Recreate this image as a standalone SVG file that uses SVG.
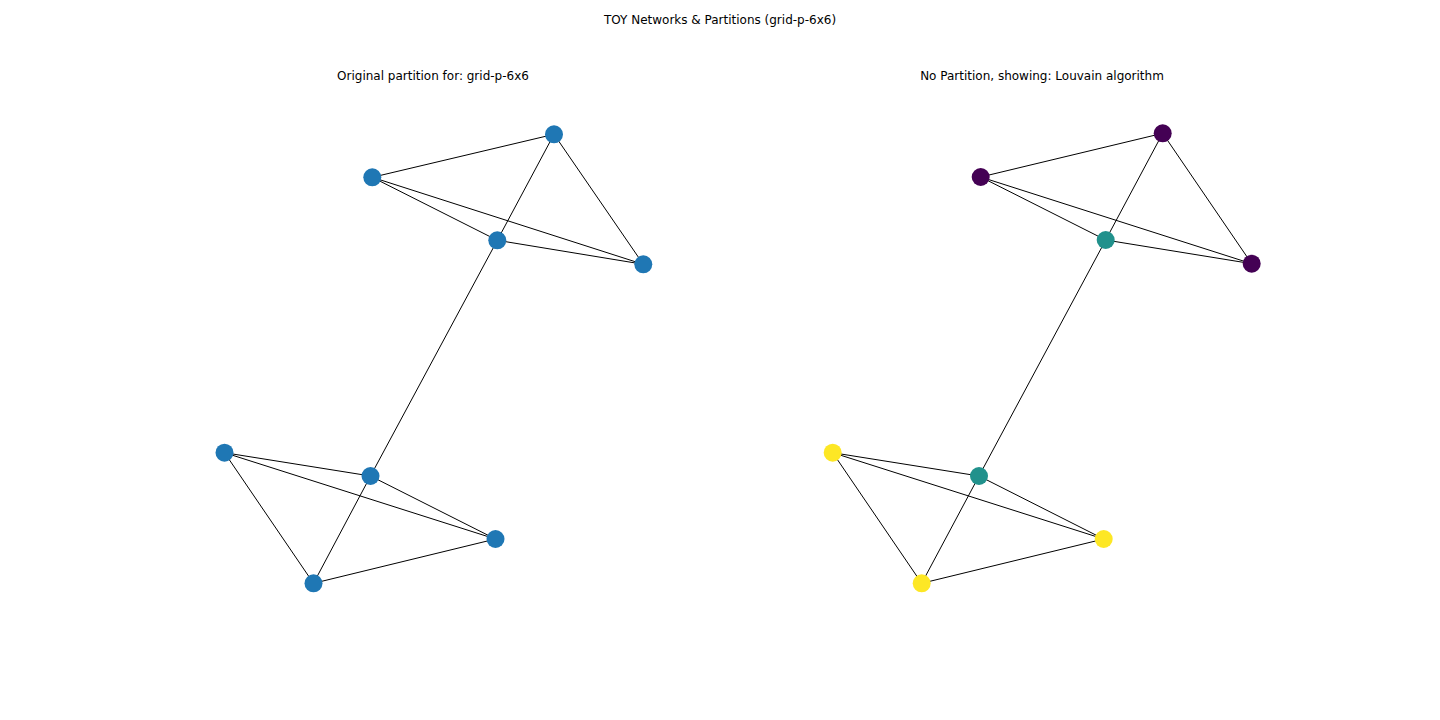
<svg xmlns="http://www.w3.org/2000/svg" width="1440" height="720" viewBox="0 0 1440 720">
<style>
text{font-family:"DejaVu Sans",sans-serif;font-size:12px;fill:#000;text-anchor:middle}
.e line{stroke:#000;stroke-width:1}
.b{fill:#1f77b4}.p{fill:#440154}.t{fill:#21918c}.y{fill:#fde725}
</style>
<rect width="1440" height="720" fill="#fff"/>
<text x="720" y="24">TOY Networks &amp; Partitions (grid-p-6x6)</text>
<text x="433" y="80">Original partition for: grid-p-6x6</text>
<text x="1042" y="80">No Partition, showing: Louvain algorithm</text>
<g id="connectors" class="e">
<line x1="372.3" y1="177.3" x2="554" y2="134.3"/>
<line x1="554" y1="134.3" x2="497.3" y2="240.3"/>
<line x1="554" y1="134.3" x2="643.3" y2="264.3"/>
<line x1="372.3" y1="177.3" x2="497.3" y2="240.3"/>
<line x1="372.3" y1="177.3" x2="643.3" y2="264.3"/>
<line x1="497.3" y1="240.3" x2="643.3" y2="264.3"/>
<line x1="497.3" y1="240.3" x2="370.5" y2="476"/>
<line x1="224.5" y1="452.7" x2="370.5" y2="476"/>
<line x1="224.5" y1="452.7" x2="495.5" y2="539"/>
<line x1="224.5" y1="452.7" x2="313.5" y2="583.3"/>
<line x1="370.5" y1="476" x2="495.5" y2="539"/>
<line x1="370.5" y1="476" x2="313.5" y2="583.3"/>
<line x1="313.5" y1="583.3" x2="495.5" y2="539"/>
<line x1="980.7" y1="177" x2="1162.7" y2="133.3"/>
<line x1="1162.7" y1="133.3" x2="1105.7" y2="240"/>
<line x1="1162.7" y1="133.3" x2="1251.7" y2="263.7"/>
<line x1="980.7" y1="177" x2="1105.7" y2="240"/>
<line x1="980.7" y1="177" x2="1251.7" y2="263.7"/>
<line x1="1105.7" y1="240" x2="1251.7" y2="263.7"/>
<line x1="1105.7" y1="240" x2="979" y2="476"/>
<line x1="832.7" y1="452.7" x2="979" y2="476"/>
<line x1="832.7" y1="452.7" x2="1103.7" y2="539"/>
<line x1="832.7" y1="452.7" x2="921.7" y2="583.3"/>
<line x1="979" y1="476" x2="1103.7" y2="539"/>
<line x1="979" y1="476" x2="921.7" y2="583.3"/>
<line x1="921.7" y1="583.3" x2="1103.7" y2="539"/>
</g>
<g id="L0"><circle class="b" cx="554" cy="134.3" r="9"/></g>
<g id="L1"><circle class="b" cx="372.3" cy="177.3" r="9"/></g>
<g id="L2"><circle class="b" cx="497.3" cy="240.3" r="9"/></g>
<g id="L3"><circle class="b" cx="643.3" cy="264.3" r="9"/></g>
<g id="L4"><circle class="b" cx="224.5" cy="452.7" r="9"/></g>
<g id="L5"><circle class="b" cx="370.5" cy="476" r="9"/></g>
<g id="L6"><circle class="b" cx="495.5" cy="539" r="9"/></g>
<g id="L7"><circle class="b" cx="313.5" cy="583.3" r="9"/></g>
<g id="R0"><circle class="p" cx="1162.7" cy="133.3" r="9"/></g>
<g id="R1"><circle class="p" cx="980.7" cy="177" r="9"/></g>
<g id="R2"><circle class="t" cx="1105.7" cy="240" r="9"/></g>
<g id="R3"><circle class="p" cx="1251.7" cy="263.7" r="9"/></g>
<g id="R4"><circle class="y" cx="832.7" cy="452.7" r="9"/></g>
<g id="R5"><circle class="t" cx="979" cy="476" r="9"/></g>
<g id="R6"><circle class="y" cx="1103.7" cy="539" r="9"/></g>
<g id="R7"><circle class="y" cx="921.7" cy="583.3" r="9"/></g>
</svg>
